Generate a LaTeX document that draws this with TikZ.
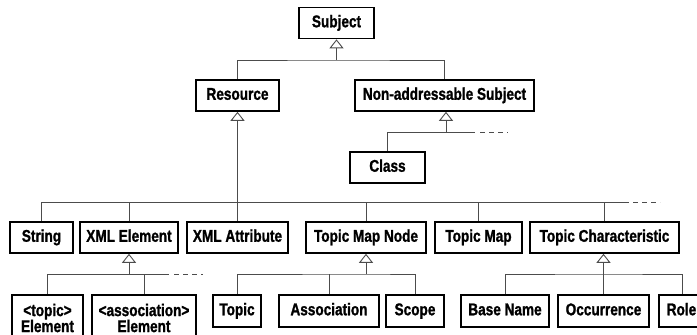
\documentclass[tikz,border=0pt]{standalone}
\usepackage{fontspec}
\setmainfont{Liberation Sans}[FakeStretch=0.8,FakeBold=1.2]
\usetikzlibrary{arrows.meta}
\begin{document}
\begin{tikzpicture}[x=1pt,y=-1pt,
  box/.style={draw, line width=1.6pt, font=\bfseries\fontsize{17}{16}\selectfont, align=center, inner sep=0pt, minimum height=31pt},
  one/.style={box, text height=12pt, text depth=3.5pt},
  conn/.style={draw=black!70, line width=0.9pt},
  gen/.style={conn, {Triangle[open,width=14pt,length=9pt,line width=0.9pt]}-},
  more/.style={conn, dash pattern=on 5pt off 4pt}]
\useasboundingbox (0,0) rectangle (697,335);
% level 0/1
\node[one, minimum width=75pt]  (subject)  at (336.5,23)  {Subject};
\node[one, minimum width=83pt]  (resource) at (237.5,95.5) {Resource};
\node[one, minimum width=179pt] (nonaddr)  at (444.5,95.5) {Non-addressable Subject};
\node[one, minimum width=75pt]  (class)    at (387.5,167.5) {Class};
% level 2
\node[one, minimum width=63pt]  (string)  at (41.5,237.5)  {String};
\node[one, minimum width=98pt]  (xmlel)   at (129,237.5)   {XML Element};
\node[one, minimum width=101pt] (xmlattr) at (237.5,237.5) {XML Attribute};
\node[one, minimum width=120pt] (tmn)     at (366,237.5)   {Topic Map Node};
\node[one, minimum width=87pt]  (tm)      at (478.5,237.5) {Topic Map};
\node[one, minimum width=149pt] (tc)      at (604.5,237.5) {Topic Characteristic};
% level 3
\node[box, minimum width=71pt, minimum height=46pt]  (topicel) at (47.5,318) {<topic>\\Element};
\node[box, minimum width=104pt, minimum height=46pt] (assocel) at (144,318) {<association>\\Element};
\node[one, minimum width=48pt, minimum height=32pt]  (topic)   at (237,311) {Topic};
\node[one, minimum width=100pt, minimum height=32pt] (assoc)   at (329,311) {Association};
\node[one, minimum width=58pt, minimum height=32pt]  (scope)   at (415,311) {Scope};
\node[one, minimum width=88pt, minimum height=32pt]  (basename) at (505,311) {Base Name};
\node[one, minimum width=91pt, minimum height=32pt]  (occ)     at (603.5,311) {Occurrence};
\node[one, minimum width=50pt, minimum height=32pt]  (role)    at (684,311) {Role\hspace*{5pt}};
% Subject generalization
\coordinate (j1) at (336.5,60);
\draw[gen] (subject.south) -- (j1);
\draw[conn] (resource.north) |- (j1) -| (nonaddr.north);
% Non-addressable Subject generalization
\coordinate (j2) at (446,132);
\coordinate (j2e) at (475,132);
\coordinate (j2d) at (480,132);
\coordinate (j2f) at (508,132);
\draw[gen] (nonaddr.south -| j2) -- (j2);
\draw[conn] (class.north) |- (j2e);
\draw[more] (j2d) -- (j2f);
% Resource generalization
\coordinate (j3) at (237.5,202);
\coordinate (j3e) at (629,202);
\coordinate (j3d) at (633,202);
\coordinate (j3f) at (660,202);
\draw[gen] (resource.south) -- (xmlattr.north);
\draw[conn] (string.north) |- (j3e);
\draw[more] (j3d) -- (j3f);
\draw[conn] (xmlel.north) -- (xmlel.north |- j3);
\draw[conn] (tmn.north) -- (tmn.north |- j3);
\draw[conn] (tm.north) -- (tm.north |- j3);
\draw[conn] (tc.north) -- (tc.north |- j3);
% XML Element generalization
\coordinate (j4) at (129,274);
\coordinate (j4e) at (169,274);
\coordinate (j4d) at (174,274);
\coordinate (j4f) at (203,274);
\draw[gen] (xmlel.south) -- (j4);
\draw[conn] (topicel.north) |- (j4e);
\draw[more] (j4d) -- (j4f);
\draw[conn] (assocel.north) -- (assocel.north |- j4);
% Topic Map Node generalization
\coordinate (j5) at (366,274);
\draw[gen] (tmn.south) -- (j5);
\draw[conn] (topic.north) |- (j5) -| (scope.north);
\draw[conn] (assoc.north) -- (assoc.north |- j5);
% Topic Characteristic generalization
\coordinate (j6) at (603.5,274);
\draw[gen] (tc.south -| j6) -- (j6);
\draw[conn] (basename.north) |- (j6) -| ([xshift=-2pt]role.north);
\draw[conn] (occ.north) -- (j6);
\end{tikzpicture}
\end{document}
